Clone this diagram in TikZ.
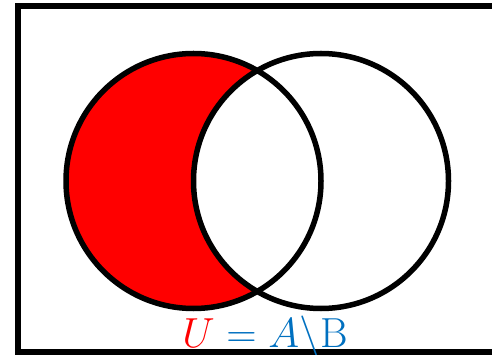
\documentclass[tikz,border=0pt]{standalone}
\usepackage{amsmath,amssymb}
\usetikzlibrary{positioning}

\definecolor{setred}{RGB}{255,0,0}
\definecolor{setblue}{RGB}{0,112,192}

\begin{document}
\begin{tikzpicture}[x=1pt,y=-1pt,line width=5.5pt]
\useasboundingbox (0,0) rectangle (492,355);
\tikzset{setline/.style={draw=black,line width=5.5pt}}

% Universe frame (right side runs off the page).
\draw[setline] (18,6) rectangle (500,352);

% Shaded part: A minus B.
\fill[setred] (193.5,181) circle (127.5);
\fill[white] (321,181) circle (127.5);
\draw[setline] (193.5,181) circle (127.5);
\draw[setline] (321,181) circle (127.5);

\node[anchor=base,inner sep=0pt,font=\Huge] (lab) at (265,347)
  {\scalebox{1.69}{$\textcolor{setred}{U}\textcolor{setblue}{{}=A\backslash\mathrm{B}}$}};
\end{tikzpicture}
\end{document}
